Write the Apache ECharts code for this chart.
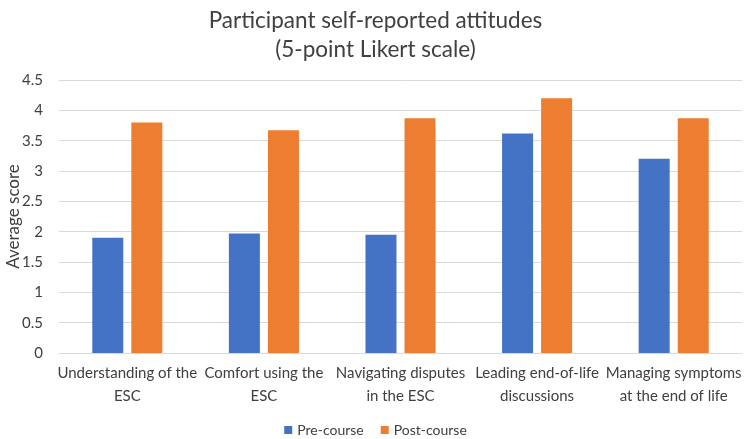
<!DOCTYPE html>
<html><head><meta charset="utf-8">
<script src="https://cdn.jsdelivr.net/npm/echarts@6/dist/echarts.min.js"></script>
<style>html,body{margin:0;padding:0;background:#fff}#c{width:751px;height:439px}</style>
</head><body><div id="c"></div>
<script>
const categories = ["Understanding of the\nESC", "Comfort using the\nESC", "Navigating disputes\nin the ESC", "Leading end-of-life\ndiscussions", "Managing symptoms\nat the end of life"];
const preCourse = [1.9, 1.97, 1.95, 3.62, 3.2];
const postCourse = [3.8, 3.67, 3.87, 4.2, 3.87];
const yTicks = [0, 0.5, 1, 1.5, 2, 2.5, 3, 3.5, 4, 4.5];

const FONT = 'Lato';
const chart = echarts.init(document.getElementById('c'));
chart.setOption({
  animation: false,
  textStyle: {fontFamily: FONT},
  title: {
    text: 'Participant self-reported attitudes\n(5-point Likert scale)',
    left: 'center', top: 1,
    textStyle: {fontFamily: FONT, fontSize: 22.5, fontWeight: 'normal', color: '#404040', lineHeight: 29}
  },
  legend: {
    bottom: -3, left: 'center', itemWidth: 8, itemHeight: 8, itemGap: 17, icon: 'rect',
    textStyle: {fontFamily: FONT, fontSize: 14, color: '#404040'}
  },
  grid: {left: 59, right: 9, top: 80, bottom: 86, containLabel: false, outerBoundsMode: 'none'},
  xAxis: {
    type: 'category', data: categories,
    axisLine: {lineStyle: {color: '#d9d9d9'}},
    axisTick: {show: false},
    axisLabel: {fontFamily: FONT, fontSize: 15, color: '#404040', interval: 0, lineHeight: 23, margin: 9}
  },
  yAxis: {
    type: 'value', min: 0, max: 4.5, interval: 0.5,
    name: 'Average score', nameLocation: 'middle', nameGap: 37, nameMoveOverlap: false,
    nameTextStyle: {fontFamily: FONT, fontSize: 17, color: '#404040'},
    axisLabel: {fontFamily: FONT, fontSize: 15, color: '#404040', margin: 16,
      formatter: v => String(yTicks.find(t => Math.abs(t - v) < 1e-9) ?? v)},
    splitLine: {lineStyle: {color: '#d9d9d9', width: 1}}
  },
  series: [
    {name: 'Pre-course', type: 'bar', data: preCourse, barWidth: 31, barGap: '26%', itemStyle: {color: '#4472C4'}},
    {name: 'Post-course', type: 'bar', data: postCourse, barWidth: 31, itemStyle: {color: '#ED7D31'}}
  ]
});
</script></body></html>
